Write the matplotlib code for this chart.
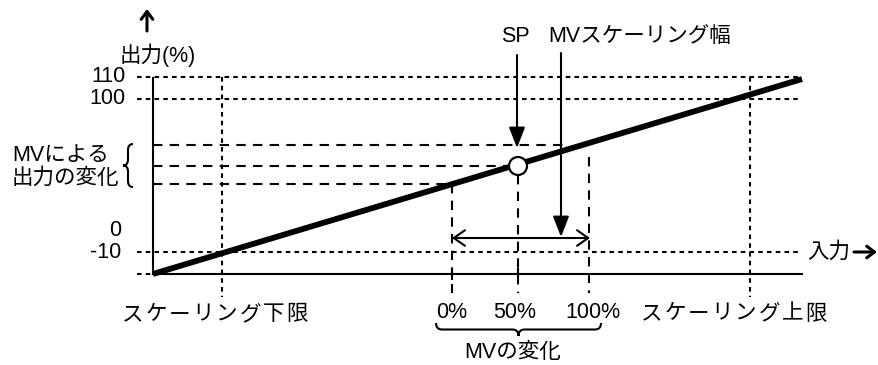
import matplotlib
matplotlib.use("Agg")
import matplotlib.pyplot as plt
from matplotlib.path import Path
from matplotlib.patches import PathPatch, Circle

plt.rcParams['font.family'] = ['Liberation Sans', 'Noto Sans CJK JP', 'DejaVu Sans']

# ---- content ----
y_tick_labels = ["110", "100", "0", "-10"]
x_tick_labels = ["0%", "50%", "100%"]
y_axis_title = "出力(%)"
x_axis_title = "入力"
lower_label = "スケーリング下限"
upper_label = "スケーリング上限"
sp_label = "SP"
mv_width_label = "MVスケーリング幅"
mv_out_label = ["MVによる", "出力の変化"]
mv_change_label = "MVの変化"

# ---- layout (diagram coordinates, pixels, y downward) ----
W, H = 879, 365
x_axis_y = 274
y_axis_x = 153
right_end = 802
guide_left = 137
y_levels = [77, 99, 230, 252]          # positions for y tick labels
dotted_h = [77, 99, 252]
dotted_v = [222, 750]
mv_out_levels = [145, 166, 184]
mv_out_ends = [568, 509, 452]
mv_x = [452, 518, 589]
mv_x_tops = [184, 175, 157]
line_start = (153, 274)
line_end = (802, 79)
sp_pt = (518, 166)

fig = plt.figure(figsize=(W / 100, H / 100), dpi=100)
ax = fig.add_axes([0, 0, 1, 1])
ax.set_xlim(0, W)
ax.set_ylim(H, 0)
ax.axis('off')

thin = 1.5
dot_style = (0, (2.2, 2.0))
dash_style = (0, (4.5, 3.5))
fs = 15.5

# axes
ax.plot([y_axis_x, y_axis_x], [dotted_h[0], x_axis_y], color='k', lw=thin, solid_capstyle='butt')
ax.plot([y_axis_x, right_end], [x_axis_y, x_axis_y], color='k', lw=thin)

# dotted guides
for yy in dotted_h:
    ax.plot([guide_left, right_end], [yy, yy], color='k', lw=thin, ls=dot_style)
ax.plot([guide_left, y_axis_x], [x_axis_y, x_axis_y], color='k', lw=thin, ls=dot_style)
for xx in dotted_v:
    ax.plot([xx, xx], [dotted_h[0], 297], color='k', lw=thin, ls=dot_style)

# dashed MV guides
for yy, xe in zip(mv_out_levels, mv_out_ends):
    ax.plot([y_axis_x, xe], [yy, yy], color='k', lw=thin, ls=dash_style)
for xx, yt in zip(mv_x, mv_x_tops):
    ax.plot([xx, xx], [yt, 293], color='k', lw=thin, ls=dash_style)
for xx in mv_x[:2]:
    ax.plot([xx, xx], [x_axis_y - 5, x_axis_y + 5], color='k', lw=thin)

# main characteristic line
ax.plot([line_start[0], line_end[0]], [line_start[1], line_end[1]], color='k', lw=4.2,
        solid_capstyle='butt', zorder=5)

# SP point
ax.add_patch(Circle(sp_pt, 9, facecolor='white', edgecolor='k', lw=1.6, zorder=6))

# arrows
ax.annotate('', xy=(517, 148), xytext=(517, 55),
            arrowprops=dict(arrowstyle='-|>,head_length=0.9,head_width=0.35', color='k', lw=thin,
                            shrinkA=0, shrinkB=0, mutation_scale=14))
ax.annotate('', xy=(561, 237), xytext=(561, 53),
            arrowprops=dict(arrowstyle='-|>,head_length=0.9,head_width=0.35', color='k', lw=thin,
                            shrinkA=0, shrinkB=0, mutation_scale=14))
ax.annotate('', xy=(452, 238), xytext=(590, 238),
            arrowprops=dict(arrowstyle='<->,head_length=0.5,head_width=0.35', color='k', lw=thin,
                            shrinkA=0, shrinkB=0, mutation_scale=16))
ax.annotate('', xy=(147, 9), xytext=(147, 31),
            arrowprops=dict(arrowstyle='->,head_length=0.4,head_width=0.3', color='k', lw=2.2,
                            shrinkA=0, shrinkB=0, mutation_scale=14))
ax.annotate('', xy=(877, 252), xytext=(854, 252),
            arrowprops=dict(arrowstyle='->,head_length=0.4,head_width=0.3', color='k', lw=2.2,
                            shrinkA=0, shrinkB=0, mutation_scale=14))

# texts
ax.text(158, 55, y_axis_title, fontsize=fs, ha='center', va='center')
for lab, yy in zip(y_tick_labels, y_levels):
    xr = 126 if lab in ("110", "100") else 121
    ax.text(xr, yy, lab, fontsize=fs, ha='right', va='center')
ax.text(807, 252, x_axis_title, fontsize=fs, ha='left', va='center')
ax.text(515, 37, sp_label, fontsize=fs, ha='center', va='center')
ax.text(548, 37, mv_width_label, fontsize=fs, ha='left', va='center')
ax.text(12, 155, mv_out_label[0], fontsize=fs, ha='left', va='center')
ax.text(12, 178, mv_out_label[1], fontsize=fs, ha='left', va='center')
for lab, xx in zip(x_tick_labels, [452, 515, 593]):
    ax.text(xx, 313, lab, fontsize=fs, ha='center', va='center')
ax.text(513, 353, mv_change_label, fontsize=fs, ha='center', va='center')


def spaced_text(cx, cy, s, pitch):
    n = len(s)
    x0 = cx - pitch * (n - 1) / 2
    for i, ch in enumerate(s):
        ax.text(x0 + i * pitch, cy, ch, fontsize=fs, ha='center', va='center')


spaced_text(215, 315, lower_label, 23.5)
spaced_text(734, 314, upper_label, 23.5)

# braces
def vbrace(x_tip, x_end, y0, y1):
    ym = (y0 + y1) / 2
    xm = (x_tip + x_end) / 2
    verts = [(x_end, y0), (xm, y0), (xm, y0 + 6),
             (xm, ym - 6),
             (xm, ym), (x_tip, ym),
             (xm, ym), (xm, ym + 6),
             (xm, y1 - 6),
             (xm, y1), (x_end, y1)]
    codes = [Path.MOVETO, Path.CURVE3, Path.CURVE3, Path.LINETO,
             Path.CURVE3, Path.CURVE3, Path.CURVE3, Path.CURVE3,
             Path.LINETO, Path.CURVE3, Path.CURVE3]
    ax.add_patch(PathPatch(Path(verts, codes), fill=False, lw=thin, edgecolor='k'))


def hbrace(x0, x1, y_end, y_tip):
    xm = (x0 + x1) / 2
    ym = (y_end + y_tip) / 2
    verts = [(x0, y_end), (x0, ym), (x0 + 6, ym),
             (xm - 6, ym),
             (xm, ym), (xm, y_tip),
             (xm, ym), (xm + 6, ym),
             (x1 - 6, ym),
             (x1, ym), (x1, y_end)]
    codes = [Path.MOVETO, Path.CURVE3, Path.CURVE3, Path.LINETO,
             Path.CURVE3, Path.CURVE3, Path.CURVE3, Path.CURVE3,
             Path.LINETO, Path.CURVE3, Path.CURVE3]
    ax.add_patch(PathPatch(Path(verts, codes), fill=False, lw=thin, edgecolor='k'))


vbrace(123, 133, 144, 187)
hbrace(436, 601, 323, 336)

fig.savefig('out.png', dpi=100)
